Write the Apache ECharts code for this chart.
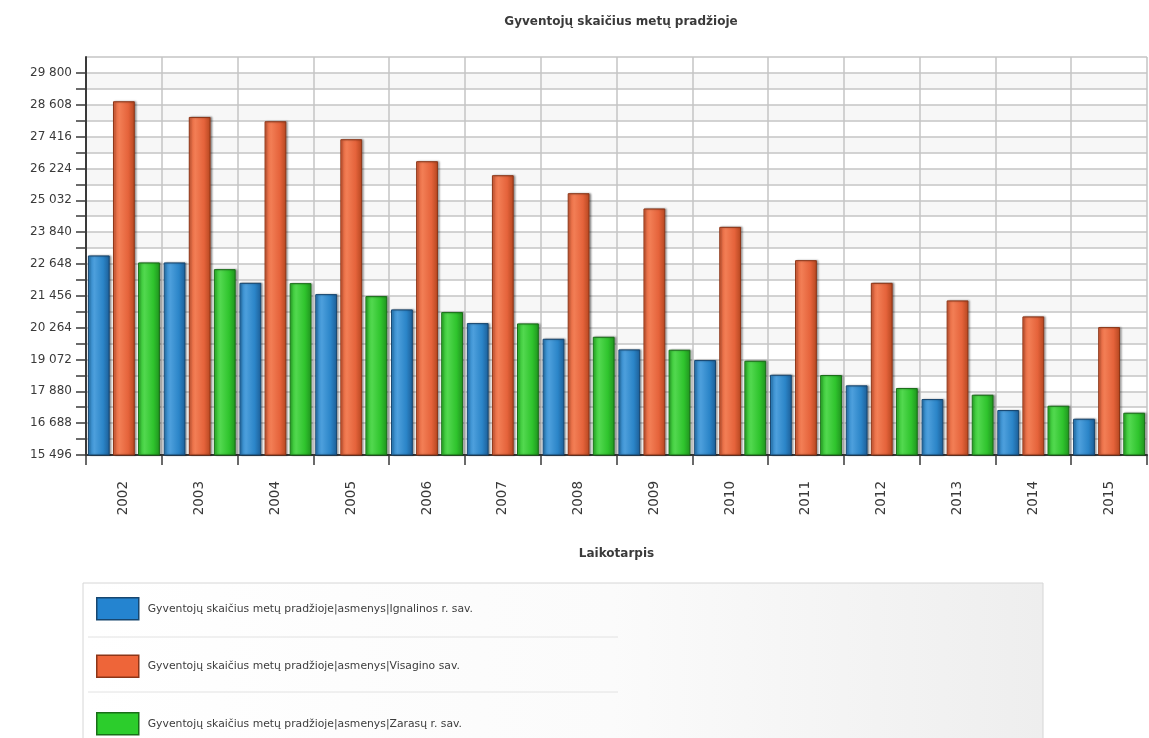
<!DOCTYPE html>
<html>
<head>
<meta charset="utf-8">
<title>Gyventojų skaičius metų pradžioje</title>
<script src="https://cdn.jsdelivr.net/npm/echarts@6/dist/echarts.min.js"></script>
<style>
  html, body { margin: 0; padding: 0; background: #ffffff; }
  #chart { width: 1149px; height: 738px; }
</style>
</head>
<body>
<div id="chart"></div>
<script>
// Years on the category axis
const years = ['2002', '2003', '2004', '2005', '2006', '2007', '2008',
               '2009', '2010', '2011', '2012', '2013', '2014', '2015'];

// Population at the start of each year, persons
const ignalina = [22967, 22705, 21942, 21519, 20947, 20434, 19847,
                  19450, 19050, 18500, 18103, 17591, 17179, 16854];
const visaginas = [28739, 28152, 27991, 27318, 26495, 25971, 25297,
                   24725, 24037, 22791, 21942, 21283, 20685, 20284];
const zarasai = [22705, 22454, 21930, 21444, 20846, 20422, 19922,
                 19438, 19024, 18489, 18002, 17752, 17340, 17078];

const seriesNames = [
  'Gyventojų skaičius metų pradžioje|asmenys|Ignalinos r. sav.',
  'Gyventojų skaičius metų pradžioje|asmenys|Visagino sav.',
  'Gyventojų skaičius metų pradžioje|asmenys|Zarasų r. sav.'
];

// Value axis: labelled every 1192, gridlines every half step
const yMin = 15496;
const yMax = 30396;
const yMajor = 1192;
const yLastLabel = 29800;

const palette = [
  { light: '#4d9fdc', mid: '#2b85c8', dark: '#1c5d96', edge: '#17466f', flat: '#2484d0' },
  { light: '#f27e55', mid: '#e5633b', dark: '#b4461f', edge: '#8c3517', flat: '#ee6539' },
  { light: '#52d84f', mid: '#2fc42d', dark: '#1f921e', edge: '#186e17', flat: '#2ccd2c' }
];

function barStyle(p) {
  return {
    color: {
      type: 'linear', x: 0, y: 0, x2: 1, y2: 0,
      colorStops: [
        { offset: 0, color: p.mid },
        { offset: 0.3, color: p.light },
        { offset: 0.7, color: p.mid },
        { offset: 1, color: p.dark }
      ]
    },
    borderColor: p.edge,
    borderWidth: 1,
    shadowColor: 'rgba(0,0,0,0.35)',
    shadowBlur: 2,
    shadowOffsetX: 1.5,
    shadowOffsetY: 0
  };
}

function spaced(v) {
  return String(v).replace(/\B(?=(\d{3})+(?!\d))/g, ' ');
}

const font = 'DejaVu Sans, Verdana, sans-serif';
const chart = echarts.init(document.getElementById('chart'), null, { renderer: 'canvas' });

const values = [ignalina, visaginas, zarasai];

chart.setOption({
  animation: false,
  backgroundColor: '#ffffff',
  title: {
    text: 'Gyventojų skaičius metų pradžioje',
    left: 616,
    textAlign: 'center',
    top: 11,
    textStyle: { fontFamily: font, fontSize: 12, fontWeight: 'bold', color: '#3a3a3a' }
  },
  graphic: [
    {
      type: 'rect', silent: true, z: -1,
      shape: { x: 83, y: 583, width: 960, height: 170 },
      style: {
        fill: {
          type: 'linear', x: 0, y: 0, x2: 1, y2: 0,
          colorStops: [{ offset: 0, color: '#ffffff' }, { offset: 0.55, color: '#fbfbfb' }, { offset: 1, color: '#eeeeee' }]
        },
        stroke: '#d6d6d6', lineWidth: 1
      }
    },
    { type: 'line', silent: true, shape: { x1: 88, y1: 637, x2: 618, y2: 637 }, style: { stroke: '#e2e2e2', lineWidth: 1 } },
    { type: 'line', silent: true, shape: { x1: 88, y1: 692, x2: 618, y2: 692 }, style: { stroke: '#e2e2e2', lineWidth: 1 } }
  ],
  legend: {
    orient: 'vertical',
    left: 96,
    top: 597,
    padding: 0,
    itemWidth: 42,
    itemHeight: 22,
    itemGap: 34,
    icon: 'rect',
    textStyle: { fontFamily: font, fontSize: 10.8, color: '#3c3c3c', padding: [0, 0, 0, 4] },
    data: seriesNames.map((n, i) => ({
      name: n,
      itemStyle: { color: palette[i].flat, borderColor: palette[i].edge, borderWidth: 1.5 }
    }))
  },
  grid: { left: 86, right: 2, top: 57, bottom: 283, containLabel: false },
  xAxis: {
    type: 'category',
    data: years,
    name: 'Laikotarpis',
    nameLocation: 'middle',
    nameGap: 93,
    nameTextStyle: { fontFamily: font, fontSize: 12, fontWeight: 'bold', color: '#3a3a3a' },
    axisLine: { show: true, lineStyle: { color: '#3a3a3a', width: 2 } },
    axisTick: { show: true, length: 10, alignWithLabel: false, lineStyle: { color: '#3a3a3a', width: 1.5 } },
    axisLabel: { rotate: 90, margin: 26, fontFamily: font, fontSize: 13.5, color: '#3a3a3a' },
    splitLine: { show: true, interval: 0, lineStyle: { color: '#c4c4c4', width: 1.5 } }
  },
  yAxis: {
    type: 'value',
    min: yMin,
    max: yMax,
    interval: yMajor / 2,
    axisLine: { show: true, lineStyle: { color: '#3a3a3a', width: 2 } },
    axisTick: { show: true, length: 10, lineStyle: { color: '#3a3a3a', width: 1.5 } },
    axisLabel: {
      margin: 14,
      fontFamily: font,
      fontSize: 12,
      color: '#3a3a3a',
      showMaxLabel: false,
      formatter: function (v) {
        const k = Math.round((v - yMin) / (yMajor / 2));
        if (k % 2 !== 0 || v > yLastLabel) return '';
        return spaced(v);
      }
    },
    splitLine: { show: true, lineStyle: { color: '#c4c4c4', width: 1.5 } },
    splitArea: { show: true, areaStyle: { color: ['#ffffff', '#f7f7f7'] } }
  },
  series: seriesNames.map((n, i) => ({
    name: n,
    type: 'bar',
    data: values[i],
    barGap: '15%',
    barCategoryGap: '5%',
    itemStyle: barStyle(palette[i])
  }))
});
</script>
</body>
</html>
